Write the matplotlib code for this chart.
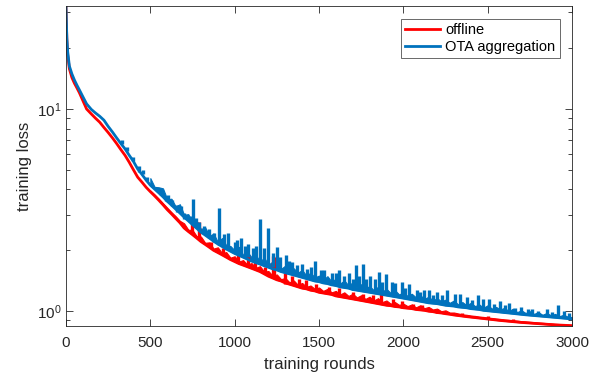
import numpy as np
import matplotlib
matplotlib.use("Agg")
from matplotlib import pyplot as plt
from matplotlib.ticker import LogLocator, NullFormatter, MultipleLocator

plt.rcParams['font.family'] = ['Liberation Sans', 'DejaVu Sans']

# 训练轮次（基线采样点）
rounds = [0, 2, 5, 10, 20, 35, 50, 65, 80, 100, 122, 150, 175, 200, 225, 250, 275, 300,
          325, 350, 375, 400, 425, 450, 475] + list(range(500, 3001, 25))

# offline 基线（下沿）
offline_loss = [32, 27, 22, 18.5, 15.8, 14.3, 13.4, 12.7, 12.0, 11.0, 10.0, 9.45, 9.0, 8.6,
                8.1, 7.65, 7.2, 6.75, 6.3, 5.9, 5.45, 5.0, 4.6, 4.35, 4.1,
                3.9, 3.72, 3.54, 3.36, 3.18, 3.03, 2.88, 2.74, 2.58, 2.48, 2.39, 2.3, 2.21, 2.14,
                2.07, 2.0, 1.95, 1.9, 1.85, 1.8, 1.76, 1.72, 1.69, 1.66, 1.63, 1.6, 1.57, 1.53,
                1.49, 1.46, 1.43, 1.41, 1.38, 1.36, 1.34, 1.32, 1.3, 1.29, 1.27, 1.26, 1.24, 1.23,
                1.22, 1.21, 1.19, 1.18, 1.17, 1.16, 1.15, 1.14, 1.13, 1.12, 1.11, 1.1, 1.09, 1.08,
                1.07, 1.065, 1.055, 1.05, 1.04, 1.035, 1.03, 1.02, 1.015, 1.01, 1.0, 0.995, 0.985,
                0.98, 0.972, 0.966, 0.958, 0.952, 0.946, 0.94, 0.935, 0.93, 0.925, 0.92, 0.915,
                0.91, 0.905, 0.9, 0.896, 0.892, 0.888, 0.884, 0.88, 0.877, 0.874, 0.871, 0.868,
                0.865, 0.862, 0.859, 0.856, 0.854, 0.852, 0.85, 0.848]

# offline 噪声带上沿（500 轮起）
offline_upper = [3.95, 3.78, 3.6, 3.42, 3.25, 3.09, 2.95, 2.8, 2.72, 2.53, 2.52, 2.35, 2.34,
                 2.18, 2.19, 2.04, 2.07, 1.94, 1.96, 1.84, 1.87, 1.76, 1.79, 1.7, 1.73, 1.64,
                 1.67, 1.57, 1.58, 1.5, 1.52, 1.44, 1.46, 1.39, 1.42, 1.35, 1.38, 1.32, 1.34,
                 1.29, 1.31, 1.26, 1.29, 1.24, 1.26, 1.21, 1.24, 1.19, 1.22, 1.17, 1.2, 1.15,
                 1.18, 1.13, 1.16, 1.11, 1.13, 1.09, 1.11, 1.075, 1.09, 1.06, 1.08, 1.045,
                 1.07, 1.035, 1.05, 1.02, 1.03, 1.0, 1.01, 0.985, 0.985, 0.975, 0.965, 0.96,
                 0.952, 0.948, 0.94, 0.937, 0.93, 0.926, 0.92, 0.916, 0.91, 0.907, 0.902,
                 0.898, 0.893, 0.89, 0.886, 0.883, 0.879, 0.876, 0.873, 0.87, 0.866, 0.864,
                 0.861, 0.859, 0.856]

# OTA aggregation 基线（下沿）
ota_loss = [32, 27.5, 22.5, 19.2, 16.3, 14.9, 13.9, 13.1, 12.4, 11.5, 10.6, 9.95, 9.55, 9.2,
            8.8, 8.2, 7.7, 7.2, 6.75, 6.35, 5.9, 5.5, 5.05, 4.75, 4.45,
            4.2, 4.02, 3.85, 3.68, 3.5, 3.35, 3.2, 3.06, 2.92, 2.8, 2.68, 2.57, 2.46, 2.38,
            2.3, 2.22, 2.15, 2.09, 2.03, 1.98, 1.93, 1.89, 1.85, 1.81, 1.77, 1.74, 1.71, 1.68,
            1.65, 1.62, 1.6, 1.57, 1.55, 1.53, 1.51, 1.49, 1.47, 1.45, 1.43, 1.41, 1.4, 1.38,
            1.37, 1.35, 1.34, 1.32, 1.31, 1.3, 1.28, 1.27, 1.26, 1.25, 1.24, 1.23, 1.22, 1.21,
            1.2, 1.19, 1.18, 1.17, 1.16, 1.15, 1.14, 1.13, 1.12, 1.11, 1.1, 1.095, 1.09, 1.08,
            1.07, 1.065, 1.06, 1.05, 1.045, 1.04, 1.03, 1.025, 1.02, 1.01, 1.005, 1.0, 0.995,
            0.99, 0.985, 0.98, 0.975, 0.97, 0.965, 0.96, 0.956, 0.952, 0.948, 0.944, 0.94,
            0.936, 0.932, 0.928, 0.924, 0.92, 0.916]

# OTA aggregation 噪声带上沿（500 轮起）
ota_upper = [4.55, 4.12, 4.1, 4.05, 3.58, 3.6, 3.3, 3.38, 3.0, 3.02, 2.76, 2.8, 2.55, 2.6,
             2.36, 2.42, 2.2, 2.3, 2.12, 2.1, 2.0, 2.08, 1.9, 1.97, 1.85, 1.9, 1.76, 1.84,
             1.7, 1.76, 1.72, 1.62, 1.68, 1.58, 1.63, 1.55, 1.6, 1.5, 1.55, 1.47, 1.5, 1.43,
             1.49, 1.4, 1.45, 1.37, 1.42, 1.34, 1.39, 1.31, 1.36, 1.3, 1.33, 1.27, 1.32, 1.25,
             1.29, 1.23, 1.27, 1.21, 1.24, 1.19, 1.22, 1.17, 1.2, 1.15, 1.18, 1.13, 1.16, 1.12,
             1.14, 1.1, 1.13, 1.08, 1.11, 1.07, 1.1, 1.06, 1.08, 1.04, 1.07, 1.03, 1.05, 1.02,
             1.04, 1.0, 1.03, 0.99, 1.01, 0.98, 1.0, 0.97, 0.99, 0.96, 0.98, 0.955, 0.97,
             0.945, 0.96, 0.94, 0.935]

# 尖峰（轮次, 峰值, 底部）
offline_spike_rounds = [745, 788, 860, 930, 1020, 1081, 1120, 1180, 1225, 1233, 1300, 1340,
                        1380, 1420, 1480, 1560, 1620, 1700, 1760, 1820, 1870, 1940, 1990,
                        2060, 2108, 2200, 2350, 2500, 2650]
offline_spike_tops = [2.85, 2.75, 2.2, 2.05, 1.9, 1.9, 1.8, 1.65, 1.88, 1.86, 1.55, 1.5,
                      1.45, 1.42, 1.36, 1.32, 1.3, 1.25, 1.22, 1.2, 1.22, 1.15, 1.12,
                      1.08, 1.07, 1.02, 0.98, 0.95, 0.92]
offline_spike_feet = [2.4, 2.3, 2.05, 1.92, 1.75, 1.68, 1.63, 1.52, 1.47, 1.46, 1.37, 1.35,
                      1.33, 1.3, 1.27, 1.21, 1.19, 1.15, 1.13, 1.11, 1.09, 1.06, 1.04,
                      1.03, 1.02, 0.985, 0.946, 0.917, 0.889]

ota_spike_rounds = [330, 360, 395, 430, 455, 480, 563, 590, 605, 630, 660, 680, 700, 735,
                    755, 770, 790, 820, 850, 880, 909, 935, 960, 1000, 1015, 1040, 1060,
                    1080, 1110, 1125, 1150, 1175, 1199, 1230, 1252, 1270, 1302, 1320, 1340,
                    1370, 1400, 1430, 1455, 1476, 1510, 1530, 1580, 1600, 1620, 1650, 1680,
                    1700, 1717, 1740, 1762, 1780, 1800, 1830, 1857, 1875, 1897, 1930, 1950,
                    1990, 2010, 2035, 2080, 2100, 2120, 2150, 2175, 2200, 2230, 2260, 2306,
                    2336, 2380, 2410, 2444, 2470, 2507, 2540, 2573, 2600, 2628, 2660, 2700,
                    2740, 2760, 2800, 2850, 2880, 2919, 2950, 2980]
ota_spike_tops = [7.0, 6.5, 5.8, 5.2, 5.0, 4.6, 3.95, 3.7, 3.75, 3.55, 3.35, 3.3, 3.05,
                  2.95, 3.6, 2.9, 2.75, 2.65, 2.55, 2.45, 3.25, 2.4, 2.45, 2.2, 2.25, 2.3,
                  2.1, 2.15, 2.05, 2.1, 2.85, 2.05, 2.58, 1.95, 2.07, 1.85, 1.9, 1.78, 1.75,
                  1.7, 1.72, 1.62, 1.65, 1.78, 1.6, 1.6, 1.55, 1.55, 1.6, 1.5, 1.55,
                  1.45, 1.7, 1.5, 1.72, 1.45, 1.5, 1.45, 1.57, 1.4, 1.52, 1.4, 1.38,
                  1.4, 1.3, 1.36, 1.28, 1.25, 1.27, 1.27, 1.2, 1.25, 1.2, 1.27, 1.22,
                  1.22, 1.17, 1.14, 1.2, 1.15, 1.15, 1.08, 1.12, 1.07, 1.1, 1.04, 1.05,
                  1.02, 1.03, 1.0, 1.02, 0.99, 1.07, 1.0, 0.98]
ota_spike_feet = [6.7, 6.2, 5.5, 4.9, 4.75, 4.4, 3.75, 3.5, 3.48, 3.3, 3.1, 3.05, 2.85,
                  2.75, 2.68, 2.6, 2.5, 2.4, 2.3, 2.2, 2.12, 2.08, 2.02, 1.95, 1.92, 1.9,
                  1.85, 1.86, 1.8, 1.74, 1.75, 1.68, 1.7, 1.66, 1.63, 1.58, 1.57, 1.54, 1.54,
                  1.52, 1.49, 1.48, 1.43, 1.44, 1.41, 1.41, 1.38, 1.34, 1.36, 1.33, 1.33,
                  1.28, 1.31, 1.29, 1.28, 1.25, 1.26, 1.26, 1.24, 1.21, 1.22, 1.22, 1.2,
                  1.19, 1.16, 1.17, 1.15, 1.12, 1.13, 1.1, 1.095, 1.09, 1.08, 1.07, 1.06,
                  1.05, 1.04, 1.03, 1.02, 1.02, 1.01, 1.0, 1.0, 0.985, 0.985, 0.978, 0.97,
                  0.96, 0.96, 0.952, 0.944, 0.946, 0.937, 0.924, 0.93]

red = '#FF0000'
blue = '#0072BD'
dark = '#262626'

fig = plt.figure(figsize=(6.04, 3.77), dpi=100)
ax = fig.add_axes([66 / 604, 1 - 326 / 377, 506 / 604, 320 / 377])

band_rounds = rounds[25:]

ax.plot(rounds, offline_loss, color=red, lw=2, label='offline')
ax.fill_between(band_rounds, offline_loss[25:], offline_upper, color=red, lw=0.8)
ax.vlines(offline_spike_rounds, offline_spike_feet, offline_spike_tops, color=red, lw=2.4)
ax.plot(rounds, ota_loss, color=blue, lw=2, label='OTA aggregation')
ax.fill_between(band_rounds, ota_loss[25:], ota_upper, color=blue, lw=0.8)
ax.vlines(ota_spike_rounds, ota_spike_feet, ota_spike_tops, color=blue, lw=2.4)

ax.set_yscale('log')
ax.set_xlim(0, 3000)
ax.set_ylim(0.845, 32.3)
ax.xaxis.set_major_locator(MultipleLocator(500))
ax.yaxis.set_major_locator(LogLocator(base=10, numticks=5))
ax.yaxis.set_minor_locator(LogLocator(base=10, subs=np.arange(2, 10), numticks=20))
ax.yaxis.set_minor_formatter(NullFormatter())

ax.tick_params(which='both', direction='in', top=True, right=True, colors=dark,
               labelsize=11, width=0.6)
ax.tick_params(which='major', length=5)
ax.tick_params(which='minor', length=3)
ax.tick_params(axis='x', pad=7)
for s in ax.spines.values():
    s.set_color(dark)
    s.set_linewidth(0.6)

ax.set_xlabel('training rounds', fontsize=12, color=dark, labelpad=5)
ax.set_ylabel('training loss', fontsize=12, color=dark, labelpad=3)

leg = ax.legend(loc='upper right', bbox_to_anchor=(0.976, 0.959), borderaxespad=0,
                fontsize=10.5, fancybox=False, handlelength=2.4, handletextpad=0.35,
                borderpad=0.3, labelspacing=0.15)
leg.get_frame().set_edgecolor(dark)
leg.get_frame().set_linewidth(0.6)

fig.savefig('out.png', dpi=100)
